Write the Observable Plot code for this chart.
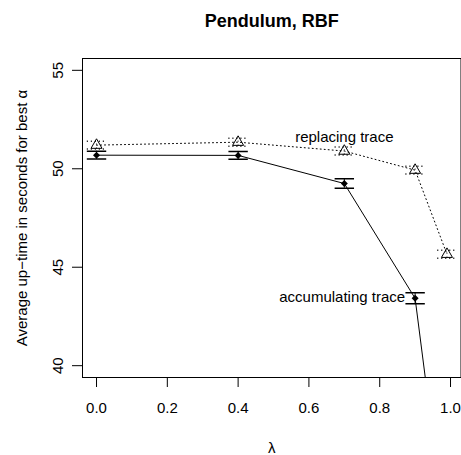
<!DOCTYPE html>
<html><head><meta charset="utf-8">
<script src="https://cdn.jsdelivr.net/npm/d3@7"></script>
<script src="https://cdn.jsdelivr.net/npm/@observablehq/plot@0.6"></script>
<style>body{margin:0;background:#fff} #chart{width:461px;height:455px}</style>
</head><body><div id="chart"></div>
<script>
const lambdas = [0, 0.4, 0.7, 0.9, 0.99];
const accumulating = [50.69, 50.68, 49.25, 43.42, 30.8];
const accumulatingErr = [0.2, 0.2, 0.24, 0.28, 0.3];
const replacing = [51.2, 51.35, 50.9, 49.93, 45.66];
const replacingErr = [0.2, 0.2, 0.2, 0.2, 0.2];
const xTicks = [0, 0.2, 0.4, 0.6, 0.8, 1.0];
const yTicks = [40, 45, 50, 55];
const title = "Pendulum, RBF";
const xLabel = "λ";
const yLabel = "Average up\u2212time in seconds for best α";
const labels = [
  {series: "replacing", idx: 2, text: "replacing trace"},
  {series: "accumulating", idx: 3, text: "accumulating trace"}
];

const acc = lambdas.map((x, i) => ({x, v: accumulating[i], e: accumulatingErr[i]}));
const rep = lambdas.map((x, i) => ({x, v: replacing[i], e: replacingErr[i]}));

const cap = {draw(ctx, size) { const h = Math.sqrt(size / Math.PI); ctx.moveTo(-h, 0); ctx.lineTo(h, 0); }};
const font = "'Liberation Sans', Arial, Helvetica, sans-serif";
const mid = {textAnchor: "middle", lineAnchor: "middle"};

const chart = Plot.plot({
  width: 461, height: 455,
  marginTop: 58, marginBottom: 78, marginLeft: 82, marginRight: 0.5,
  style: {fontFamily: font, fontSize: "15px", color: "black", background: "white"},
  x: {domain: [-0.0396, 1.0296]},
  y: {domain: [39.4, 55.6]},
  marks: [
    Plot.frame({stroke: "black"}),
    Plot.axisX({ticks: xTicks, tickSize: 10, tickFormat: () => "", label: null}),
    Plot.axisY({ticks: yTicks, tickSize: 10, tickFormat: () => "", label: null}),
    Plot.text(xTicks, {x: d => d, text: d => d.toFixed(1), frameAnchor: "bottom", dy: 31, fontSize: 15, ...mid}),
    Plot.text(yTicks, {y: d => d, text: d => String(d), frameAnchor: "left", dx: -24.7, rotate: -90, fontSize: 15, ...mid}),
    Plot.text([title], {text: d => d, frameAnchor: "top", dy: -37, fontSize: 18, fontWeight: "bold", ...mid}),
    Plot.text([xLabel], {text: d => d, frameAnchor: "bottom", dy: 70.7, fontSize: 15, ...mid}),
    Plot.text([yLabel], {text: d => d, frameAnchor: "left", dx: -60.7, rotate: -90, fontSize: 15, ...mid}),
    // replacing trace (dotted)
    Plot.line(rep, {x: "x", y: "v", stroke: "black", strokeWidth: 1, strokeDasharray: "1,3", clip: true}),
    Plot.ruleX(rep, {x: "x", y1: d => d.v - d.e, y2: d => d.v + d.e, stroke: "black", strokeDasharray: "1,3", clip: true}),
    Plot.dot(rep, {x: "x", y: d => d.v + d.e, symbol: cap, r: 9.7, stroke: "black", strokeDasharray: "1,3", clip: true}),
    Plot.dot(rep, {x: "x", y: d => d.v - d.e, symbol: cap, r: 9.7, stroke: "black", strokeDasharray: "1,3", clip: true}),
    Plot.dot(rep, {x: "x", y: "v", symbol: "triangle2", r: 5.25, stroke: "black", fill: "none", strokeWidth: 1, clip: true}),
    // accumulating trace (solid)
    Plot.line(acc, {x: "x", y: "v", stroke: "black", strokeWidth: 1, clip: true}),
    Plot.ruleX(acc, {x: "x", y1: d => d.v - d.e, y2: d => d.v + d.e, stroke: "black", clip: true}),
    Plot.dot(acc, {x: "x", y: d => d.v + d.e, symbol: cap, r: 9.7, stroke: "black", clip: true}),
    Plot.dot(acc, {x: "x", y: d => d.v - d.e, symbol: cap, r: 9.7, stroke: "black", clip: true}),
    Plot.dot(acc, {x: "x", y: "v", symbol: "diamond2", r: 3.15, fill: "black", stroke: "none", clip: true}),
    // labels
    Plot.text([labels[0]], {x: d => lambdas[d.idx], y: d => replacing[d.idx], text: "text", dy: -13.4, fontSize: 15, ...mid}),
    Plot.text([labels[1]], {x: d => lambdas[d.idx], y: d => accumulating[d.idx], text: "text", dx: -10, dy: -1.6, fontSize: 15, textAnchor: "end", lineAnchor: "middle"})
  ]
});
document.getElementById("chart").appendChild(chart);
</script>
</body></html>
